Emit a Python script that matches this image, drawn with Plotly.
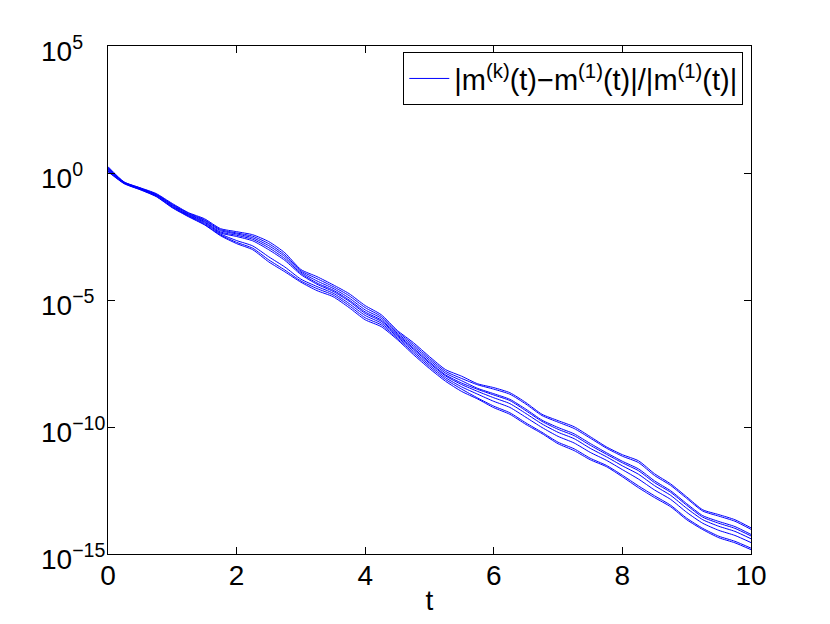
import plotly.graph_objects as go

t = [i * 0.25 for i in range(41)]

# log10 of relative difference (8 curves)
curve_a = [0.25,-0.35,-0.58,-0.81,-1.20,-1.56,-1.80,-2.19,-2.31,-2.43,-2.70,-3.14,-3.80,-4.08,-4.40,-4.75,-5.22,-5.58,-6.20,-6.68,-7.23,-7.74,-8.00,-8.30,-8.45,-8.65,-9.04,-9.50,-9.75,-9.99,-10.38,-10.78,-11.09,-11.33,-11.84,-12.24,-12.75,-13.26,-13.45,-13.65,-13.97]
curve_b = [0.22,-0.36,-0.59,-0.83,-1.23,-1.58,-1.84,-2.23,-2.36,-2.49,-2.78,-3.22,-3.85,-4.16,-4.47,-4.83,-5.30,-5.65,-6.25,-6.75,-7.30,-7.81,-8.09,-8.34,-8.51,-8.71,-9.10,-9.55,-9.81,-10.06,-10.44,-10.83,-11.15,-11.40,-11.91,-12.30,-12.81,-13.31,-13.51,-13.71,-14.03]
curve_c = [0.19,-0.37,-0.60,-0.85,-1.25,-1.61,-1.87,-2.27,-2.40,-2.55,-2.86,-3.29,-3.90,-4.25,-4.54,-4.92,-5.39,-5.72,-6.31,-6.82,-7.37,-7.88,-8.18,-8.48,-8.69,-8.91,-9.30,-9.73,-10.02,-10.27,-10.65,-11.01,-11.35,-11.65,-12.12,-12.51,-13.02,-13.49,-13.72,-13.92,-14.23]
curve_d = [0.16,-0.38,-0.62,-0.86,-1.28,-1.63,-1.91,-2.32,-2.45,-2.61,-2.94,-3.37,-3.95,-4.33,-4.61,-5.00,-5.47,-5.79,-6.36,-6.89,-7.44,-7.95,-8.27,-8.52,-8.74,-8.96,-9.36,-9.78,-10.09,-10.34,-10.72,-11.07,-11.41,-11.72,-12.19,-12.57,-13.08,-13.55,-13.79,-13.99,-14.29]
curve_e = [0.13,-0.39,-0.63,-0.88,-1.30,-1.66,-1.94,-2.36,-2.50,-2.67,-3.02,-3.44,-4.00,-4.38,-4.66,-5.05,-5.53,-5.84,-6.40,-6.94,-7.49,-7.99,-8.33,-8.60,-8.85,-9.08,-9.47,-9.88,-10.21,-10.46,-10.84,-11.17,-11.53,-11.86,-12.31,-12.69,-13.20,-13.65,-13.91,-14.11,-14.40]
curve_f = [0.10,-0.40,-0.64,-0.90,-1.33,-1.68,-1.98,-2.40,-2.66,-2.87,-3.30,-3.70,-4.18,-4.47,-4.73,-5.14,-5.61,-5.91,-6.45,-7.01,-7.56,-8.06,-8.42,-8.71,-8.99,-9.23,-9.62,-10.02,-10.37,-10.63,-11.00,-11.31,-11.68,-12.05,-12.48,-12.85,-13.36,-13.79,-14.07,-14.27,-14.55]
curve_g = [0.07,-0.41,-0.65,-0.92,-1.35,-1.70,-2.02,-2.44,-2.73,-2.96,-3.42,-3.82,-4.25,-4.55,-4.80,-5.22,-5.70,-5.98,-6.51,-7.08,-7.63,-8.13,-8.51,-8.86,-9.18,-9.44,-9.84,-10.21,-10.60,-10.86,-11.23,-11.51,-11.90,-12.32,-12.71,-13.08,-13.59,-13.99,-14.30,-14.50,-14.77]
curve_h = [0.05,-0.42,-0.66,-0.93,-1.37,-1.72,-2.04,-2.47,-2.78,-3.02,-3.50,-3.89,-4.30,-4.63,-4.87,-5.30,-5.78,-6.05,-6.56,-7.15,-7.70,-8.20,-8.60,-8.90,-9.24,-9.50,-9.90,-10.26,-10.66,-10.93,-11.29,-11.56,-11.96,-12.39,-12.78,-13.14,-13.65,-14.04,-14.36,-14.56,-14.83]

curves = [curve_a, curve_b, curve_c, curve_d, curve_e, curve_f, curve_g, curve_h]

y_tick_exponents = [-15, -10, -5, 0, 5]
y_ticktext = ["10<sup>−15</sup>", "10<sup>−10</sup>", "10<sup>−5</sup>", "10<sup>0</sup>", "10<sup>5</sup>"]
x_tickvals = [0, 2, 4, 6, 8, 10]

legend_label = "|m<sup>(k)</sup>(t)−m<sup>(1)</sup>(t)|/|m<sup>(1)</sup>(t)|"

FONT = "Liberation Sans, Arial, Helvetica, sans-serif"
FS = 28

fig = go.Figure()
for i, c in enumerate(curves):
    fig.add_trace(go.Scatter(
        x=t, y=[10 ** v for v in c], mode="lines",
        line=dict(color="#0000ff", width=1, shape="spline", smoothing=0.6),
        name=legend_label, showlegend=(i == 0),
    ))

# y tick labels: base "10" left-aligned in a column, exponent hanging right (MATLAB style)
# (annotation y on a log axis is given in log10 units)
for e, txt in zip(y_tick_exponents, y_ticktext):
    fig.add_annotation(
        x=-0.107, xref="paper", y=e, yref="y", text=txt, showarrow=False,
        xanchor="left", yanchor="middle", yshift=-3,
        font=dict(family=FONT, size=FS, color="black"),
    )

fig.update_layout(
    width=814, height=608,
    margin=dict(l=100, r=71, t=38, b=62, autoexpand=False),
    paper_bgcolor="white", plot_bgcolor="white",
    font=dict(family=FONT, size=FS, color="black"),
    showlegend=True,
    legend=dict(
        x=0.988, y=0.988, xanchor="right", yanchor="top",
        bgcolor="white", bordercolor="black", borderwidth=1,
        font=dict(family=FONT, size=29, color="black"),
        tracegroupgap=0, itemwidth=40,
    ),
    xaxis=dict(
        range=[0, 10], tickvals=x_tickvals, ticks="inside", ticklen=7,
        tickcolor="black", showline=True, linecolor="black", linewidth=1,
        mirror="ticks", showgrid=False, zeroline=False, automargin=False,
        ticklabelstandoff=-4,
        title=dict(text="t", standoff=4, font=dict(size=FS)),
        tickfont=dict(size=FS),
    ),
    yaxis=dict(
        type="log", range=[-15, 5], tickvals=[10 ** e for e in y_tick_exponents],
        showticklabels=False,
        ticks="inside", ticklen=7, tickcolor="black", showline=True,
        linecolor="black", linewidth=1, mirror="ticks", showgrid=False,
        zeroline=False, automargin=False,
    ),
)

fig.write_html("out.html")
